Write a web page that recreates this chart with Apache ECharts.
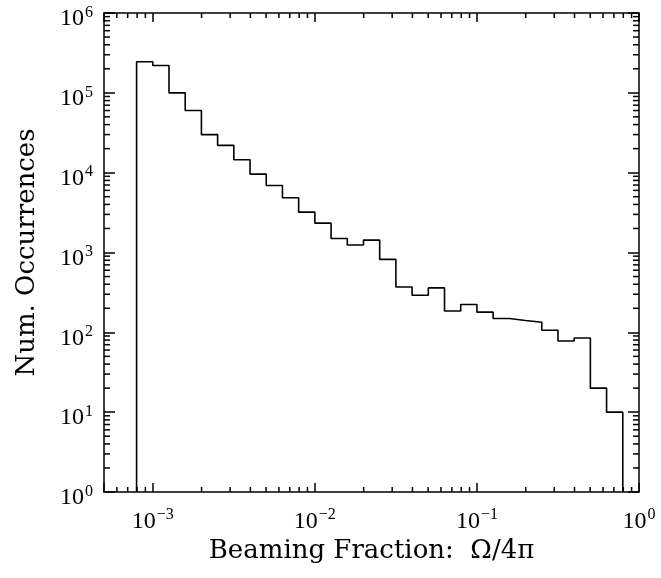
<!DOCTYPE html>
<html>
<head>
<meta charset="utf-8">
<script src="https://cdn.jsdelivr.net/npm/echarts@6/dist/echarts.min.js"></script>
<style>
  html, body { margin: 0; padding: 0; background: #fff; }
  #main { width: 661px; height: 578px; }
</style>
</head>
<body>
<div id="main"></div>
<script>
// histogram bin edges, log10(Omega/4pi)
var binEdgesLog = [-3.1, -3.0, -2.9, -2.8, -2.7, -2.6, -2.5, -2.4, -2.3, -2.2, -2.1,
  -2.0, -1.9, -1.8, -1.7, -1.6, -1.5, -1.4, -1.3, -1.2, -1.1,
  -1.0, -0.9, -0.8, -0.7, -0.6, -0.5, -0.4, -0.3, -0.2, -0.1]
// occurrences per bin
var counts = [245000, 220000, 100000, 60000, 30000, 22000, 14500, 9600, 6900, 4850,
  3200, 2330, 1500, 1240, 1430, 820, 370, 292, 360, 185,
  223, 179, 149, 141, 134, 106, 78, 85, 20, 10]

var xMin = 5e-4, xMax = 1
var yMin = 1, yMax = 1e6
var minorSteps = [2, 3, 4, 5, 6, 7, 8, 9]
var xDecades = [1e-4, 1e-3, 1e-2, 1e-1]
var yDecades = [1, 10, 100, 1e3, 1e4, 1e5]

var TITLE_FONT = 'DejaVu Serif'
var LABEL_FONT = 'Liberation Serif'

// step line points: left edges with their bin value, closed down to the axis
var histData = [[Math.pow(10, binEdgesLog[0]), yMin]]
counts.forEach(function (c, i) {
  histData.push([Math.pow(10, binEdgesLog[i]), c])
})
var lastEdge = Math.pow(10, binEdgesLog[binEdgesLog.length - 1])
histData.push([lastEdge, counts[counts.length - 1]])
histData.push([lastEdge, yMin])

// minor tick values (2..9 x decade) inside the axis range
var xMinor = []
xDecades.forEach(function (d) {
  minorSteps.forEach(function (k) {
    var v = k * d
    if (v > xMin * 1.0001 && v < xMax * 0.9999) xMinor.push(v)
  })
})
var yMinor = []
yDecades.forEach(function (d) {
  minorSteps.forEach(function (k) {
    var v = k * d
    if (v > yMin && v < yMax) yMinor.push(v)
  })
})

function powLabel(v) {
  var n = Math.log10(v)
  var r = Math.round(n)
  if (Math.abs(n - r) > 1e-6) return ''
  var e = r < 0 ? '\u2212' + (-r) : '' + r
  return '{b|10}{e|' + e + '}'
}

var labelRich = {
  b: { fontSize: 24, fontFamily: LABEL_FONT, color: '#000' },
  e: { fontSize: 16, fontFamily: LABEL_FONT, color: '#000', padding: [0, 0, 13, 1] },
}
var titleStyle = { fontSize: 26, fontFamily: TITLE_FONT, color: '#000' }

var axisLine = { show: true, lineStyle: { color: '#000', width: 1.5 } }

var chart = echarts.init(document.getElementById('main'))
chart.setOption({
  backgroundColor: '#fff',
  animation: false,
  grid: { left: 104, right: 22, top: 13, bottom: 86 },
  xAxis: [
    {
      type: 'log',
      logBase: 10,
      min: xMin,
      max: xMax,
      position: 'bottom',
      name: 'Beaming Fraction:  \u03A9/4\u03C0',
      nameLocation: 'middle',
      nameGap: 44,
      nameTextStyle: titleStyle,
      axisLine: axisLine,
      axisTick: { show: true, inside: true, length: 9, lineStyle: { color: '#000', width: 1.5 } },
      axisLabel: { margin: 15, formatter: powLabel, rich: labelRich },
      splitLine: { show: false },
    },
    {
      type: 'log',
      logBase: 10,
      min: xMin,
      max: xMax,
      position: 'top',
      axisLine: axisLine,
      axisTick: { show: true, inside: true, length: 9, lineStyle: { color: '#000', width: 1.5 } },
      axisLabel: { show: false },
      splitLine: { show: false },
    },
  ],
  yAxis: [
    {
      type: 'log',
      logBase: 10,
      min: yMin,
      max: yMax,
      position: 'left',
      name: 'Num. Occurrences',
      nameLocation: 'middle',
      nameRotate: 90,
      nameGap: 64,
      nameTextStyle: titleStyle,
      axisLine: axisLine,
      axisTick: { show: true, inside: true, length: 11, lineStyle: { color: '#000', width: 1.5 } },
      axisLabel: { margin: 11, formatter: powLabel, rich: labelRich, padding: [12, 0, 0, 0] },
      splitLine: { show: false },
    },
    {
      type: 'log',
      logBase: 10,
      min: yMin,
      max: yMax,
      position: 'right',
      axisLine: axisLine,
      axisTick: { show: true, inside: true, length: 11, lineStyle: { color: '#000', width: 1.5 } },
      axisLabel: { show: false },
      splitLine: { show: false },
    },
  ],
  series: [
    {
      name: 'histogram',
      type: 'line',
      step: 'end',
      data: histData,
      showSymbol: false,
      lineStyle: { color: '#000', width: 1.6 },
      silent: true,
    },
    {
      // minor ticks on bottom and top
      type: 'custom',
      silent: true,
      clip: false,
      data: xMinor.map(function (v) { return [v, yMin] }),
      renderItem: function (params, api) {
        var p = api.coord([api.value(0), yMin])
        var cs = params.coordSys
        var st = { stroke: '#000', lineWidth: 1.5 }
        return {
          type: 'group',
          children: [
            { type: 'line', shape: { x1: p[0], y1: cs.y + cs.height, x2: p[0], y2: cs.y + cs.height - 5 }, style: st },
            { type: 'line', shape: { x1: p[0], y1: cs.y, x2: p[0], y2: cs.y + 5 }, style: st },
          ],
        }
      },
    },
    {
      // minor ticks on left and right
      type: 'custom',
      silent: true,
      clip: false,
      data: yMinor.map(function (v) { return [xMin, v] }),
      renderItem: function (params, api) {
        var p = api.coord([xMin, api.value(1)])
        var cs = params.coordSys
        var st = { stroke: '#000', lineWidth: 1.5 }
        return {
          type: 'group',
          children: [
            { type: 'line', shape: { x1: cs.x, y1: p[1], x2: cs.x + 6, y2: p[1] }, style: st },
            { type: 'line', shape: { x1: cs.x + cs.width, y1: p[1], x2: cs.x + cs.width - 6, y2: p[1] }, style: st },
          ],
        }
      },
    },
  ],
})
</script>
</body>
</html>
